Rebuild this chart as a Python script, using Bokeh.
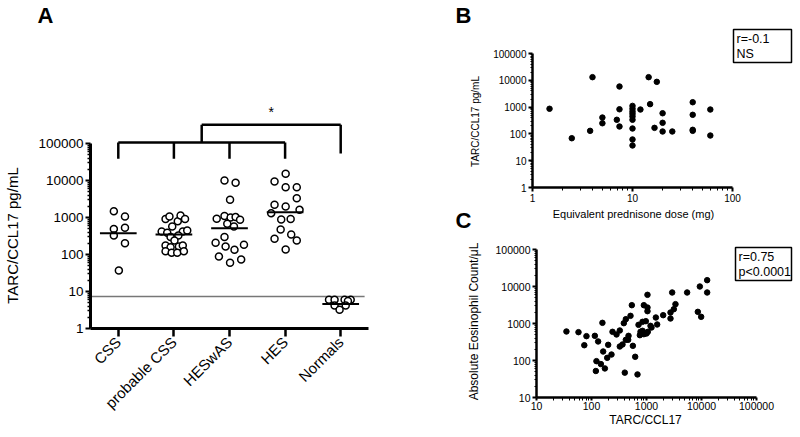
import math
from bokeh.plotting import figure
from bokeh.layouts import row, column
from bokeh.models import FixedTicker, NumeralTickFormatter, Label, Range1d
from bokeh.core.properties import value
from bokeh.embed import file_html
from bokeh.resources import INLINE

FONT = "Liberation Sans"

# ---------------- Panel A data ----------------
groups = ["CSS", "probable CSS", "HESwAS", "HES", "Normals"]
css_vals = [1480, 1060, 490, 525, 327, 202, 37]
css_jit = [-0.08, 0.12, -0.08, 0.12, -0.08, 0.12, 0.01]
pcss_vals = [916, 1065, 794, 1130, 916, 570, 418, 385, 418, 445, 326, 295, 240,
             175, 158, 165, 175, 122, 112, 112, 122]
pcss_jit = [-0.15, -0.08, 0.07, 0.12, 0.20, -0.03, -0.22, -0.12, 0.16, 0.24, 0.08,
            -0.06, 0.01, -0.15, -0.06, 0.09, 0.16, -0.15, -0.04, 0.06, 0.18]
heswas_vals = [10000, 8660, 3000, 930, 1090, 1000, 1025, 866, 676, 570, 295, 207,
               165, 134, 183, 88, 60, 73]
heswas_jit = [-0.09, 0.11, 0.01, -0.23, -0.09, 0.02, 0.11, 0.19, -0.04, 0.08, -0.09,
              -0.25, -0.07, 0.09, 0.26, -0.19, 0.01, 0.21]
hes_vals = [15200, 9400, 6600, 6600, 3300, 2200, 1990, 1610, 1310, 885, 916, 475,
            265, 347, 240, 137]
hes_jit = [0.01, -0.19, 0.01, 0.21, 0.21, -0.19, 0.01, 0.26, -0.25, -0.07, 0.10,
           -0.08, -0.19, 0.11, 0.21, 0.01]
norm_vals = [6.0, 6.0, 6.0, 6.0, 5.5, 4.2, 4.2, 3.2]
norm_jit = [-0.21, -0.11, 0.07, 0.18, 0.13, -0.11, 0.09, -0.02]
medians = [378, 347, 514, 1380, 4.6]
detection_limit = 7.3
# bracket levels (pg/mL)
lower_bar, lower_leg = 10**5.03, 10**4.59
upper_bar, upper_leg = 10**5.51, 10**4.73
star_level = 10**5.84

# ---------------- Panel B data ----------------
b_dose = [1.48, 2.47, 3.77, 3.98, 5.0, 5.0, 6.97, 7.41, 7.41, 7.41,
          10, 10, 10, 10, 10, 10, 10, 10, 10,
          12.0, 14.5, 15.0, 16.6, 17.5, 20, 20, 20, 25, 40, 40, 40, 40, 60, 60]
b_tarc = [866, 69, 130, 13100, 408, 250, 336, 5870, 830, 189,
          1110, 866, 685, 560, 447, 336, 159, 62, 37,
          812, 13100, 1290, 168, 8750, 590, 259, 123, 123, 1520, 515, 142, 130, 812, 87]
b_stats = ["r=-0.1", "NS"]

# ---------------- Panel C data ----------------
c_tarc = [35, 58, 81, 74, 115, 132, 158, 163, 201, 193, 231, 123, 148, 175, 120,
          241, 285, 327, 387, 421, 512, 541, 1042, 895, 1042, 1042, 716, 846, 972, 1183,
          1479, 2010, 1563, 1233, 327, 366, 421, 471, 464, 565, 623, 403, 686, 778, 895,
          757, 846, 2930, 5480, 9330, 12680, 12680, 8570, 9860, 3365, 3140, 2730, 2730, 1057, 1000]
c_eos = [608, 583, 455, 259, 464, 327, 1042, 175, 265, 118, 145, 96, 80, 61, 52,
         596, 505, 647, 1021, 1309, 1611, 3126, 5957, 3126, 2704, 2153, 920, 1109, 1156, 865,
         1452, 1679, 940, 780, 239, 271, 362, 464, 362, 249, 126, 47, 42, 596, 515,
         484, 634, 6890, 6890, 10000, 14830, 6890, 2065, 1514, 3336, 2440, 1982, 1365, 596, 537]
c_stats = ["r=0.75", "p<0.0001"]


def minor_log(lo_exp, hi_exp):
    return [m * 10**k for k in range(lo_exp, hi_exp) for m in range(2, 10)]


def style_axis(ax, font_size, major_out, minor_out, line_w, tick_w, minor_w, standoff):
    ax.axis_line_width = line_w
    ax.axis_line_color = "black"
    ax.major_tick_in = 0
    ax.major_tick_out = major_out
    ax.minor_tick_in = 0
    ax.minor_tick_out = minor_out
    ax.major_tick_line_width = tick_w
    ax.minor_tick_line_width = minor_w
    ax.major_tick_line_color = "black"
    ax.minor_tick_line_color = "black"
    ax.major_label_text_font = FONT
    ax.major_label_text_font_size = font_size
    ax.major_label_text_color = "black"
    ax.major_label_standoff = standoff


def base_fig(**kw):
    p = figure(output_backend="svg", toolbar_location=None, **kw)
    p.outline_line_color = None
    p.xgrid.visible = False
    p.ygrid.visible = False
    p.background_fill_color = "white"
    p.border_fill_color = "white"
    return p


def strip(w, h):
    """Axis-less text strip whose frame fills the whole canvas (pixel-like ranges)."""
    p = figure(width=w, height=h, x_range=Range1d(0, w), y_range=Range1d(h, 0),
               x_axis_type=None, y_axis_type=None, output_backend="svg",
               toolbar_location=None, min_border=0)
    p.outline_line_color = None
    p.background_fill_color = "white"
    p.border_fill_color = "white"
    return p


def add_text(p, x, y, text, size, bold=False, angle=0.0, align="center", baseline="middle"):
    p.add_layout(Label(x=x, y=y, text=text, text_font=FONT, text_font_size=size,
                       text_font_style="bold" if bold else "normal", angle=angle,
                       text_align=align, text_baseline=baseline, text_color="black"))

# ================= Panel A =================
A_DEC = 37.0
A_W, A_H = 378, 407
A_L, A_R, A_T, A_B = 68, 32, 0, 109
a_frame_h = A_H - A_T - A_B
pA = base_fig(width=A_W, height=A_H, x_range=Range1d(-0.5, 4.5),
              y_range=Range1d(1, 10 ** (a_frame_h / A_DEC)), y_axis_type="log",
              min_border_left=A_L, min_border_right=A_R, min_border_top=A_T, min_border_bottom=A_B)

pA.yaxis.ticker = FixedTicker(ticks=[10**k for k in range(0, 6)], minor_ticks=minor_log(0, 5))
pA.yaxis.formatter = NumeralTickFormatter(format="0")
pA.yaxis.bounds = (1, 100000)
style_axis(pA.yaxis[0], "13.5px", 5, 3, 3, 2, 1.5, 2)
pA.xaxis.ticker = FixedTicker(ticks=list(range(len(groups))))
pA.xaxis.major_label_overrides = {i: g for i, g in enumerate(groups)}
pA.xaxis.major_label_orientation = math.pi / 4
style_axis(pA.xaxis[0], "15px", 8, 0, 3, 2.5, 0, 3)

pA.segment(x0=[-0.5], y0=[detection_limit], x1=[4.43], y1=[detection_limit],
           line_color="#777777", line_width=1.5)

all_vals = [css_vals, pcss_vals, heswas_vals, hes_vals, norm_vals]
all_jit = [css_jit, pcss_jit, heswas_jit, hes_jit, norm_jit]
xs, ys = [], []
for gi, (vals, jit) in enumerate(zip(all_vals, all_jit)):
    for v, j in zip(vals, jit):
        xs.append(gi + j)
        ys.append(v)
pA.scatter(x=xs, y=ys, marker="circle", size=7, fill_color="white",
           line_color="black", line_width=1.5)
pA.segment(x0=[i - 0.33 for i in range(5)], y0=medians, x1=[i + 0.33 for i in range(5)],
           y1=medians, line_color="black", line_width=2)

bw = 2.5
pA.segment(x0=[0], y0=[lower_bar], x1=[3], y1=[lower_bar], line_color="black", line_width=bw)
pA.segment(x0=[0, 1, 2, 3], y0=[lower_bar] * 4, x1=[0, 1, 2, 3], y1=[lower_leg] * 4,
           line_color="black", line_width=bw)
pA.segment(x0=[1.5], y0=[lower_bar], x1=[1.5], y1=[upper_bar], line_color="black", line_width=bw)
pA.segment(x0=[1.5], y0=[upper_bar], x1=[4], y1=[upper_bar], line_color="black", line_width=bw)
pA.segment(x0=[4], y0=[upper_bar], x1=[4], y1=[upper_leg], line_color="black", line_width=bw)
add_text(pA, 2.75, star_level, "*", "14px")

sA_top = strip(400, 30)
add_text(sA_top, 45, 15, "A", "22px", bold=True)
sA_left = strip(22, 407)
add_text(sA_left, 12, 205, "TARC/CCL17 pg/mL", "15px", angle=math.pi / 2)

colA = column(sA_top, row(column(sA_left), pA))

# ================= Panel B =================
B_W, B_H = 315, 206
B_L, B_B = 47, 19
B_XDEC, B_YDEC = 100.0, 26.8
pB = base_fig(width=B_W, height=B_H, x_axis_type="log", y_axis_type="log",
              x_range=Range1d(1, 10 ** ((B_W - B_L) / B_XDEC)),
              y_range=Range1d(1, 10 ** ((B_H - B_B) / B_YDEC)),
              min_border_left=B_L, min_border_right=0, min_border_top=0, min_border_bottom=B_B)
pB.xaxis.ticker = FixedTicker(ticks=[1, 10, 100], minor_ticks=minor_log(0, 2))
pB.yaxis.ticker = FixedTicker(ticks=[10**k for k in range(0, 6)], minor_ticks=minor_log(0, 5))
pB.xaxis.formatter = NumeralTickFormatter(format="0")
pB.yaxis.formatter = NumeralTickFormatter(format="0")
pB.xaxis.bounds = (1, 100)
pB.yaxis.bounds = (1, 100000)
style_axis(pB.xaxis[0], "10px", 4, 3, 2.5, 2, 1, 2)
style_axis(pB.yaxis[0], "10px", 4, 2, 2.5, 2, 1, 2)
pB.scatter(x=b_dose, y=b_tarc, marker="circle", size=5.5, color="black")


def b_pos(px, py):  # page pixel -> panel B data
    return 10 ** ((px - 532) / B_XDEC), 10 ** ((187 - py) / B_YDEC)

(bl, bt), (br, bb) = b_pos(733, 29), b_pos(791, 62)
pB.quad(left=[bl], right=[br], top=[bt], bottom=[bb], fill_color="white",
        line_color="black", line_width=1.5)
t1 = b_pos(736, 38.5)
t2 = b_pos(736, 53.5)
pB.text(x=[t1[0], t2[0]], y=[t1[1], t2[1]], text=b_stats, text_font=value(FONT),
        text_font_size=value("12.5px"), text_align="left", text_baseline="middle",
        text_color="black")

sB_left = strip(85, 206)
add_text(sB_left, 63, 15, "B", "22px", bold=True)
add_text(sB_left, 75, 121, "TARC/CCL17 pg/mL", "10px", angle=math.pi / 2)

sBC = strip(400, 26)
add_text(sBC, 233, 7, "Equivalent prednisone dose (mg)", "11px")
add_text(sBC, 63, 14, "C", "22px", bold=True)

# ================= Panel C =================
C_W, C_H = 315, 182
C_L, C_B = 51, 17
C_XDEC, C_YDEC = 55.0, 37.0
pC = base_fig(width=C_W, height=C_H, x_axis_type="log", y_axis_type="log",
              x_range=Range1d(10, 10 ** (1 + (C_W - C_L) / C_XDEC)),
              y_range=Range1d(10, 10 ** (1 + (C_H - C_B) / C_YDEC)),
              min_border_left=C_L, min_border_right=0, min_border_top=0, min_border_bottom=C_B)
pC.xaxis.ticker = FixedTicker(ticks=[10**k for k in range(1, 6)], minor_ticks=minor_log(1, 5))
pC.yaxis.ticker = FixedTicker(ticks=[10**k for k in range(1, 6)], minor_ticks=minor_log(1, 5))
pC.xaxis.formatter = NumeralTickFormatter(format="0")
pC.yaxis.formatter = NumeralTickFormatter(format="0")
pC.xaxis.bounds = (10, 100000)
pC.yaxis.bounds = (10, 100000)
style_axis(pC.xaxis[0], "10.5px", 3, 3, 2.5, 2, 1, 1)
style_axis(pC.yaxis[0], "10.5px", 4, 2, 2.5, 2, 1, 2)
pC.scatter(x=c_tarc, y=c_eos, marker="circle", size=5.5, color="black")


def c_pos(px, py):  # page pixel -> panel C data
    return 10 ** (1 + (px - 536) / C_XDEC), 10 ** (1 + (397 - py) / C_YDEC)

(cl, ct), (cr, cb) = c_pos(735, 247), c_pos(791, 280)
pC.quad(left=[cl], right=[cr], top=[ct], bottom=[cb], fill_color="white",
        line_color="black", line_width=1.5)
u1 = c_pos(738, 256.5)
u2 = c_pos(738, 271.5)
pC.text(x=[u1[0], u2[0]], y=[u1[1], u2[1]], text=c_stats, text_font=value(FONT),
        text_font_size=value("12.5px"), text_align="left", text_baseline="middle",
        text_color="black")

sC_left = strip(85, 182)
add_text(sC_left, 73, 89, "Absolute Eosinophil Count/\u03bcL", "12px", angle=math.pi / 2)

sC_bottom = strip(400, 23)
add_text(sC_bottom, 245, 5, "TARC/CCL17", "12px")

colR = column(row(column(sB_left), pB), sBC, row(column(sC_left), pC), sC_bottom)

layout = row(colA, colR)
open("out.html", "w").write(file_html(layout, INLINE))
